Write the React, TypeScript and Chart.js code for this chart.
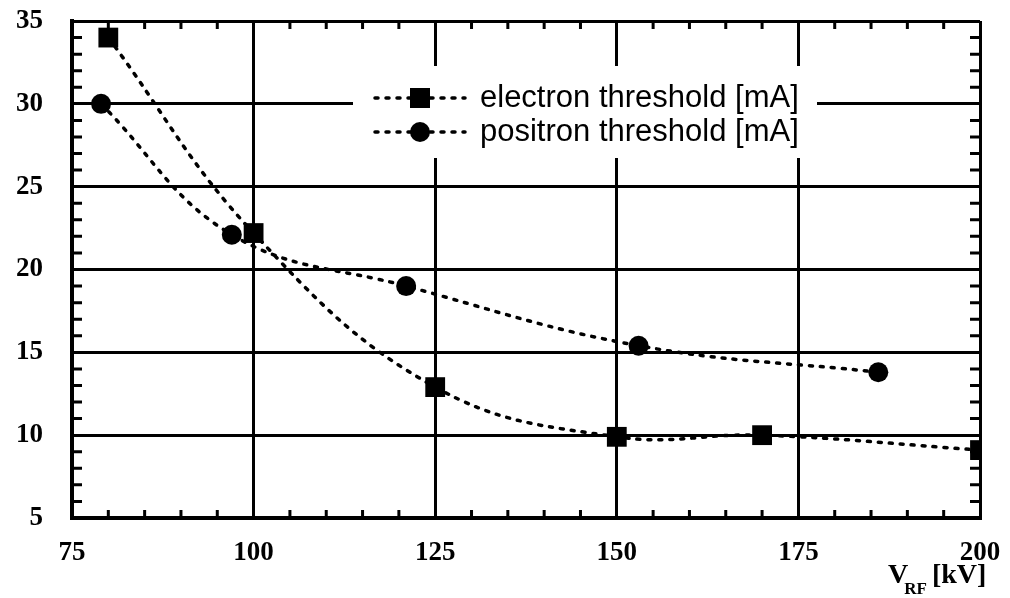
import React, { useEffect, useRef } from 'react';
import { Chart, registerables } from 'chart.js';

Chart.register(...registerables);

// ---- data ----
const electronX = [80, 100, 125, 150, 170, 200];
const electronY = [34, 22.2, 12.9, 9.9, 10.0, 9.1];
const positronX = [79, 97, 121, 153, 186];
const positronY = [30, 22.1, 19.0, 15.4, 13.8];
const seriesLabels = ['electron threshold [mA]', 'positron threshold [mA]'];
const xMin = 75;
const xMax = 200;
const xStep = 25;
const xMinorStep = 5;
const yMin = 5;
const yMax = 35;
const yStep = 5;
const yMinorStep = 1;
const xTitleMain = 'V';
const xTitleSub = 'RF';
const xTitleUnit = '[kV]';

const DASH = [3, 8];

const minorTicksPlugin = {
  id: 'minorTicks',
  afterDatasetsDraw(chart: any) {
    const { ctx, chartArea: a, scales } = chart;
    const xs = scales.x;
    const ys = scales.y;
    ctx.save();
    ctx.strokeStyle = '#000';
    ctx.lineWidth = 3;
    ctx.beginPath();
    for (let v = xMin; v <= xMax; v += xMinorStep) {
      if ((v - xMin) % xStep === 0) continue;
      const px = xs.getPixelForValue(v);
      ctx.moveTo(px, a.bottom);
      ctx.lineTo(px, a.bottom - 8);
      ctx.moveTo(px, a.top);
      ctx.lineTo(px, a.top + 8);
    }
    for (let v = yMin; v <= yMax; v += yMinorStep) {
      if ((v - yMin) % yStep === 0) continue;
      const py = ys.getPixelForValue(v);
      ctx.moveTo(a.left, py);
      ctx.lineTo(a.left + 10, py);
      ctx.moveTo(a.right, py);
      ctx.lineTo(a.right - 10, py);
    }
    ctx.stroke();
    ctx.restore();
  },
};

const legendPlugin = {
  id: 'boxLegend',
  afterDraw(chart: any) {
    const { ctx } = chart;
    ctx.save();
    ctx.fillStyle = '#fff';
    ctx.fillRect(353, 66, 464, 92);
    const rows = [98, 132];
    const styles = ['rect', 'circle'];
    rows.forEach((ry, i) => {
      ctx.strokeStyle = '#000';
      ctx.lineWidth = 3.5;
      ctx.lineCap = 'round';
      ctx.setLineDash(DASH);
      ctx.beginPath();
      ctx.moveTo(375, ry);
      ctx.lineTo(465, ry);
      ctx.stroke();
      ctx.setLineDash([]);
      ctx.fillStyle = '#000';
      if (styles[i] === 'rect') {
        ctx.fillRect(410, ry - 10, 20, 20);
      } else {
        ctx.beginPath();
        ctx.arc(420, ry, 10, 0, Math.PI * 2);
        ctx.fill();
      }
      ctx.font = '31px "Liberation Sans", Arial, sans-serif';
      ctx.textBaseline = 'middle';
      ctx.textAlign = 'left';
      ctx.fillText(seriesLabels[i], 480, ry);
    });
    // axis title
    ctx.fillStyle = '#000';
    ctx.textBaseline = 'alphabetic';
    ctx.font = 'bold 28px "Liberation Serif", "Times New Roman", serif';
    let x = 888;
    const base = 583;
    ctx.fillText(xTitleMain, x, base);
    x += ctx.measureText(xTitleMain).width - 4;
    ctx.font = 'bold 17px "Liberation Serif", "Times New Roman", serif';
    ctx.fillText(xTitleSub, x, base + 11);
    x += ctx.measureText(xTitleSub).width + 5;
    ctx.font = 'bold 28px "Liberation Serif", "Times New Roman", serif';
    ctx.fillText(xTitleUnit, x, base);
    ctx.restore();
  },
};

export default function App() {
  const ref = useRef<HTMLCanvasElement | null>(null);
  useEffect(() => {
    if (!ref.current) return;
    const tickFont = { family: '"Liberation Serif", "Times New Roman", serif', size: 27, weight: 'bold' as const };
    const chart = new Chart(ref.current, {
      type: 'scatter',
      data: {
        datasets: [
          {
            label: seriesLabels[0],
            data: electronX.map((x, i) => ({ x, y: electronY[i] })),
            showLine: true,
            borderColor: '#000',
            backgroundColor: '#000',
            borderWidth: 3.5,
            borderDash: DASH,
            borderCapStyle: 'round',
            tension: 0.4,
            pointStyle: 'rect',
            pointRadius: 14,
            pointBorderWidth: 0,
            pointBackgroundColor: '#000',
          },
          {
            label: seriesLabels[1],
            data: positronX.map((x, i) => ({ x, y: positronY[i] })),
            showLine: true,
            borderColor: '#000',
            backgroundColor: '#000',
            borderWidth: 3.5,
            borderDash: DASH,
            borderCapStyle: 'round',
            tension: 0.4,
            pointStyle: 'circle',
            pointRadius: 10,
            pointBorderWidth: 0,
            pointBackgroundColor: '#000',
          },
        ],
      },
      options: {
        animation: false,
        responsive: false,
        maintainAspectRatio: false,
        layout: { padding: { top: 21, right: 30, left: 0, bottom: 0 } },
        plugins: { legend: { display: false }, tooltip: { enabled: false } },
        scales: {
          x: {
            type: 'linear',
            min: xMin,
            max: xMax,
            afterFit: (s: any) => { s.height = 80; s.paddingLeft = 0; s.paddingRight = 0; },
            ticks: { stepSize: xStep, color: '#000', font: tickFont, padding: 19, maxRotation: 0 },
            grid: { color: '#000', lineWidth: 3, drawTicks: false },
            border: { display: true, color: '#000', width: 4 },
          },
          y: {
            type: 'linear',
            min: yMin,
            max: yMax,
            afterFit: (s: any) => { s.width = 72; s.paddingTop = 0; s.paddingBottom = 0; },
            ticks: { stepSize: yStep, color: '#000', font: tickFont, padding: 29 },
            grid: { color: '#000', lineWidth: 3, drawTicks: false },
            border: { display: true, color: '#000', width: 4 },
          },
        },
      },
      plugins: [minorTicksPlugin, legendPlugin],
    } as any);
    return () => chart.destroy();
  }, []);
  return (
    <div style={{ position: 'fixed', left: 0, top: 0, width: 1010, height: 598, background: '#fff' }}>
      <canvas ref={ref} width={1010} height={598} style={{ width: 1010, height: 598, display: 'block' }} />
    </div>
  );
}
